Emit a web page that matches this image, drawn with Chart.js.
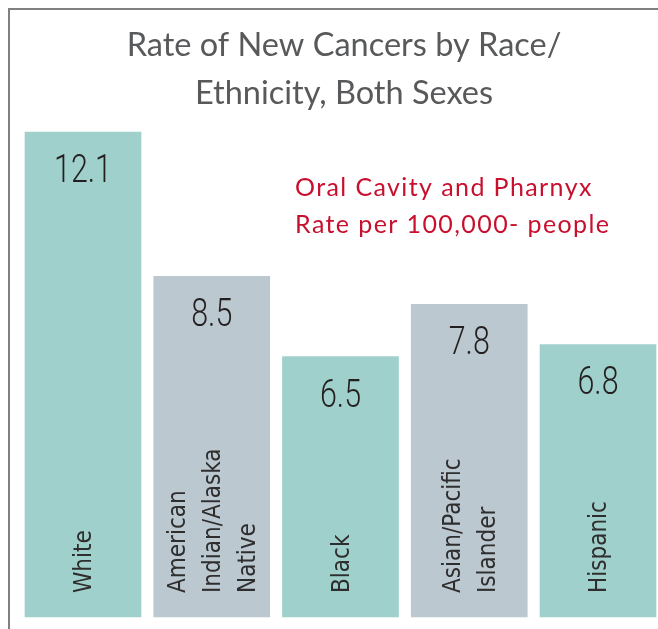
<!DOCTYPE html>
<html>
<head>
<meta charset="utf-8">
<script src="https://cdn.jsdelivr.net/npm/chart.js@4.4.1/dist/chart.umd.min.js"></script>
<style>
  html, body { margin: 0; padding: 0; background: #fff; overflow: hidden; }
  #wrap { width: 658px; height: 629px; }
</style>
</head>
<body>
<div id="wrap"><canvas id="myChart"></canvas></div>
<script>
const categories = [['White'], ['American', 'Indian/Alaska', 'Native'], ['Black'], ['Asian/Pacific', 'Islander'], ['Hispanic']];
const rates = [12.1, 8.5, 6.5, 7.8, 6.8];
const barColors = ['#a0d0cb', '#bcc8d0', '#a0d0cb', '#bcc8d0', '#a0d0cb'];
const titleLines = ['Rate of New Cancers by Race/', 'Ethnicity, Both Sexes'];
const noteLines = ['Oral Cavity and Pharnyx', 'Rate per 100,000- people'];

const narrow = '"Liberation Sans Narrow", "DejaVu Sans Condensed", sans-serif';

const textPlugin = {
    id: 'texts',
    beforeDraw(chart) {
        const ctx = chart.ctx;
        ctx.save();
        ctx.strokeStyle = '#808080';
        ctx.lineWidth = 2;
        ctx.beginPath();
        ctx.moveTo(9, 640);
        ctx.lineTo(9, 9);
        ctx.lineTo(670, 9);
        ctx.stroke();
        ctx.restore();
    },
    afterDraw(chart) {
        const ctx = chart.ctx;
        ctx.save();
        // title
        ctx.fillStyle = '#58595b';
        ctx.font = '32.5px Lato';
        ctx.textAlign = 'center';
        ctx.textBaseline = 'alphabetic';
        titleLines.forEach((t, i) => ctx.fillText(t, 344, 56 + i * 48));

        // red note
        ctx.fillStyle = '#c8102e';
        ctx.font = '25px Lato';
        ctx.textAlign = 'left';
        ctx.letterSpacing = '1.4px';
        noteLines.forEach((t, i) => ctx.fillText(t, 295, 196 + i * 37));
        ctx.letterSpacing = '0px';

        const meta = chart.getDatasetMeta(0);
        meta.data.forEach((bar, i) => {
            // value label, condensed
            ctx.save();
            ctx.translate(bar.x, bar.y + 50);
            ctx.scale(0.78, 1);
            ctx.fillStyle = '#231f20';
            ctx.font = '300 39px Roboto';
            ctx.textAlign = 'center';
            ctx.textBaseline = 'alphabetic';
            ctx.fillText(rates[i].toFixed(1), 0, 0);
            ctx.restore();

            // rotated category label
            const lines = categories[i];
            ctx.save();
            ctx.translate(bar.x, 593);
            ctx.rotate(-Math.PI / 2);
            ctx.font = '24px ' + narrow;
            ctx.fillStyle = '#2e2e2e';
            ctx.textAlign = 'left';
            ctx.textBaseline = 'middle';
            const step = 35;
            lines.forEach((l, j) => {
                const off = (j - (lines.length - 1) / 2) * step;
                ctx.fillText(l, 0, off + 2);
            });
            ctx.restore();
        });
        ctx.restore();
    }
};

new Chart(document.getElementById('myChart'), {
    type: 'bar',
    data: {
        labels: categories,
        datasets: [{
            data: rates,
            backgroundColor: barColors,
            borderWidth: 0,
            barThickness: 116,
            clip: false
        }]
    },
    options: {
        responsive: true,
        maintainAspectRatio: false,
        animation: false,
        layout: { padding: { top: 96, bottom: 12, left: 83, right: 60 } },
        plugins: {
            legend: { display: false },
            title: { display: false },
            tooltip: { enabled: false }
        },
        scales: {
            x: { display: false, offset: false },
            y: { display: false, min: 0, max: 13 }
        }
    },
    plugins: [textPlugin]
});
</script>
</body>
</html>
